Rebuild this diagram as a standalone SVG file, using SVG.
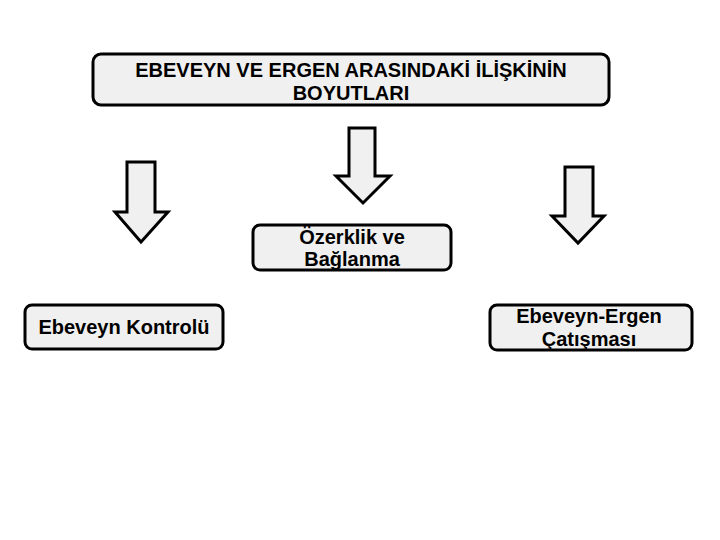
<svg xmlns="http://www.w3.org/2000/svg" width="720" height="540" viewBox="0 0 720 540">
<style>
.box{fill:#f0f0f0;stroke:#000;stroke-width:3}
.arr{fill:#f0f0f0;stroke:#000;stroke-width:3;stroke-linejoin:miter}
text{font-family:"Liberation Sans",Arial,sans-serif;font-size:20px;font-weight:bold;fill:#000;text-anchor:middle}
</style>
<rect width="720" height="540" fill="#fff"/>
<g id="title">
<rect class="box" x="93" y="54" width="516" height="51" rx="8"/>
<text x="351" y="77">EBEVEYN VE ERGEN ARASINDAKİ İLİŞKİNİN</text>
<text x="351" y="100">BOYUTLARI</text>
</g>
<g id="connectors">
<polygon class="arr" points="127,162 155,162 155,212 168,212 141,242 115,212 127,212"/>
<polygon class="arr" points="349,128 375,128 375,176 390,176 363,203 336,176 349,176"/>
<polygon class="arr" points="565,167 593,167 593,216 604,216 578,243 552,216 565,216"/>
</g>
<g id="ozerklik">
<rect class="box" x="253" y="225" width="198" height="45" rx="7"/>
<text x="352" y="244">Özerklik ve</text>
<text x="352" y="266">Bağlanma</text>
</g>
<g id="kontrol">
<rect class="box" x="25" y="305" width="198" height="44" rx="7"/>
<text x="124" y="334">Ebeveyn Kontrolü</text>
</g>
<g id="catisma">
<rect class="box" x="490" y="305" width="202" height="45" rx="7"/>
<text x="589" y="323">Ebeveyn-Ergen</text>
<text x="589" y="346">Çatışması</text>
</g>
</svg>
